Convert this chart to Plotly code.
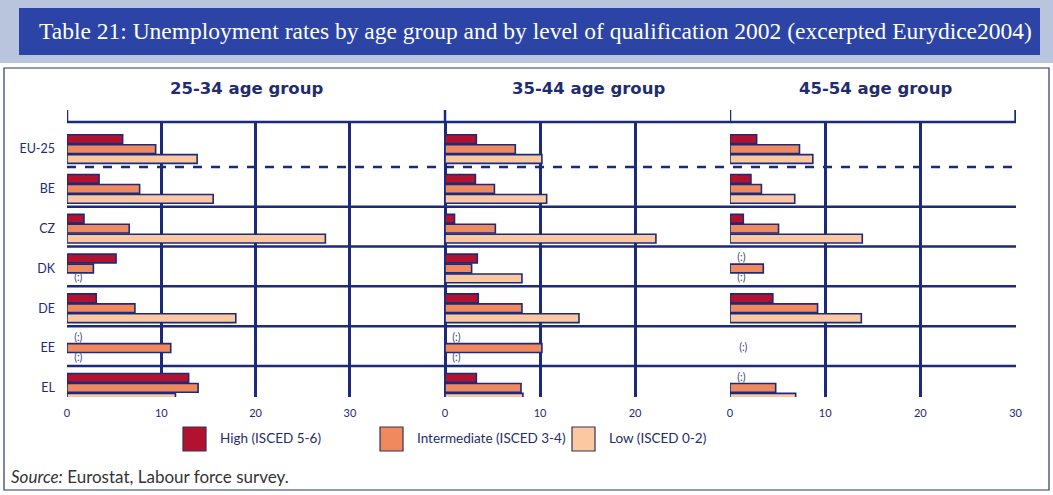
import plotly.graph_objects as go

# ---- dados ----
paises = ["EU-25", "BE", "CZ", "DK", "DE", "EE", "EL"]
grupos_idade = ["25-34 age group", "35-44 age group", "45-54 age group"]
niveis = ["High (ISCED 5-6)", "Intermediate (ISCED 3-4)", "Low (ISCED 0-2)"]
ticks_x = [0, 10, 20, 30]

alto_25_34 = [5.9, 3.4, 1.8, 5.2, 3.1, None, 12.9]
medio_25_34 = [9.4, 7.7, 6.6, 2.8, 7.2, 11.0, 13.9]
baixo_25_34 = [13.8, 15.5, 27.4, None, 17.9, None, 11.5]

alto_35_44 = [3.3, 3.2, 1.0, 3.4, 3.5, None, 3.3]
medio_35_44 = [7.4, 5.2, 5.3, 2.8, 8.1, 10.2, 8.0]
baixo_35_44 = [10.2, 10.7, 22.2, 8.1, 14.1, None, 8.2]

alto_45_54 = [2.8, 2.2, 1.4, None, 4.5, None, None]
medio_45_54 = [7.3, 3.3, 5.1, 3.5, 9.2, None, 4.8]
baixo_45_54 = [8.7, 6.8, 13.9, None, 13.8, None, 6.9]

paineis = [
    (alto_25_34, medio_25_34, baixo_25_34),
    (alto_35_44, medio_35_44, baixo_35_44),
    (alto_45_54, medio_45_54, baixo_45_54),
]

# ---- estilo ----
W, H = 1053, 495
cores = ["#b3122f", "#f08a5e", "#fcc8a2"]
azul = "#1b2a7a"
fonte_cond = "Lato, sans-serif"


def px(x):
    return x / W


def py(y):
    return 1 - y / H


# dominios dos paineis (pixels)
dominios = [(67, 360), (360, 730), (730, 1016)]
faixas = [[0, 31.07], [-8.95, 30], [0, 30.05]]
ticks_painel = [ticks_x, ticks_x[:3], ticks_x]
titulo_x = [246, 588, 875]

fig = go.Figure()
ys = list(range(len(paises)))
offsets = [-0.25, 0, 0.25]

for p, series in enumerate(paineis):
    eixo = "x" if p == 0 else f"x{p + 1}"
    for k, valores in enumerate(series):
        fig.add_trace(go.Bar(
            x=valores, y=ys, orientation="h", name=niveis[k],
            marker=dict(color=cores[k], line=dict(color=azul, width=1.6)),
            xaxis=eixo, yaxis="y", showlegend=False, hoverinfo="x",
        ))
    # marcadores "(:)" para dados indisponiveis
    tx, ty = [], []
    for i in ys:
        faltando = [k for k in range(3) if series[k][i] is None]
        if len(faltando) == 3:
            tx.append(1.4)
            ty.append(i)
        else:
            for k in faltando:
                tx.append(1.2)
                ty.append(i + offsets[k])
    if tx:
        fig.add_trace(go.Scatter(
            x=tx, y=ty, mode="text", text=["(:)"] * len(tx),
            textfont=dict(family=fonte_cond, size=10.5, color="#3a4270"),
            xaxis=eixo, yaxis="y", showlegend=False, hoverinfo="skip",
        ))

layout_eixos = {}
for p in range(3):
    nome = "xaxis" if p == 0 else f"xaxis{p + 1}"
    layout_eixos[nome] = dict(
        domain=[px(dominios[p][0]), px(dominios[p][1])],
        range=faixas[p], anchor="y",
        tickvals=ticks_painel[p], ticktext=[str(t) for t in ticks_painel[p]],
        showgrid=True, gridcolor=azul, gridwidth=2.5,
        zeroline=False, showline=False, ticks="",
        tickfont=dict(family=fonte_cond, size=11, color=azul),
        ticklabelstandoff=8, fixedrange=True,
    )

fig.update_layout(
    **layout_eixos,
    yaxis=dict(
        domain=[py(397), py(122)], range=[6.23, -0.68],
        tickvals=ys, ticktext=paises, showgrid=False, zeroline=False,
        ticks="", tickfont=dict(family=fonte_cond, size=12.5, color=azul),
        ticklabelstandoff=11, fixedrange=True, anchor="x",
    ),
    barmode="group", bargap=0.25, bargroupgap=0.12,
    width=W, height=H, margin=dict(l=0, r=0, t=0, b=0),
    paper_bgcolor="white", plot_bgcolor="white",
    template="none",
)

formas = [
    # faixa do titulo
    dict(type="rect", xref="paper", yref="paper", x0=0, x1=1, y0=py(63), y1=1,
         fillcolor="#b8c5dd", line=dict(width=0), layer="below"),
    dict(type="rect", xref="paper", yref="paper", x0=px(19), x1=px(1040), y0=py(55), y1=py(8),
         fillcolor="#2b44a6", line=dict(width=0), layer="below"),
    # moldura
    dict(type="rect", xref="paper", yref="paper", x0=px(4), x1=px(1049), y0=py(490), y1=py(68),
         line=dict(color="#2a3577", width=1.2)),
    # linha superior
    dict(type="line", xref="paper", yref="y domain", x0=px(67), x1=px(1016), y0=1, y1=1,
         line=dict(color=azul, width=2.5)),
]
# eixos verticais que passam um pouco acima da linha superior
for eixo, xv in [("x", 0), ("x2", 0), ("x3", 0), ("x3", 30)]:
    formas.append(dict(type="line", xref=eixo, yref="paper", x0=xv, x1=xv, y0=py(122), y1=py(110),
                       line=dict(color=azul, width=2.5)))
# separadores entre paises
for i in range(len(paises) - 1):
    formas.append(dict(
        type="line", xref="paper", yref="y", x0=px(67), x1=px(1016),
        y0=i + 0.45, y1=i + 0.45,
        line=dict(color=azul, width=2.5, dash="dash" if i == 0 else "solid"),
    ))

anotacoes = [
    dict(text="Table 21: Unemployment rates by age group and by level of qualification 2002 (excerpted Eurydice2004)",
         xref="paper", yref="paper", x=px(535), y=py(31), xanchor="center", yanchor="middle",
         showarrow=False, font=dict(family="Liberation Serif, serif", size=23.5, color="white")),
]
for p, t in enumerate(grupos_idade):
    anotacoes.append(dict(text=f"<b>{t}</b>", xref="paper", yref="paper", x=px(titulo_x[p]), y=py(88),
                          xanchor="center", yanchor="middle", showarrow=False,
                          font=dict(family="DejaVu Sans, sans-serif", size=16.5, color="#1f2d6e")))

# legenda manual
leg_quadrado = [183, 380, 572]
for k, nome in enumerate(niveis):
    x0 = leg_quadrado[k]
    formas.append(dict(type="rect", xref="paper", yref="paper", x0=px(x0), x1=px(x0 + 23),
                       y0=py(451), y1=py(427), fillcolor=cores[k], line=dict(color="#3a3050", width=1.2)))
    anotacoes.append(dict(text=nome, xref="paper", yref="paper", x=px(x0 + 35), y=py(438),
                          xanchor="left", yanchor="middle", showarrow=False,
                          font=dict(family=fonte_cond, size=13.5, color="#1f2d6e")))

anotacoes.append(dict(text="<i>Source:</i> Eurostat, Labour force survey.", xref="paper", yref="paper",
                      x=px(9), y=py(476), xanchor="left", yanchor="middle", showarrow=False,
                      font=dict(family=fonte_cond, size=17, color="#333333")))

fig.update_layout(shapes=formas, annotations=anotacoes)

fig.write_html("out.html", config={"displayModeBar": False},
               post_script="document.body.style.margin='0';document.body.style.overflow='hidden';")
